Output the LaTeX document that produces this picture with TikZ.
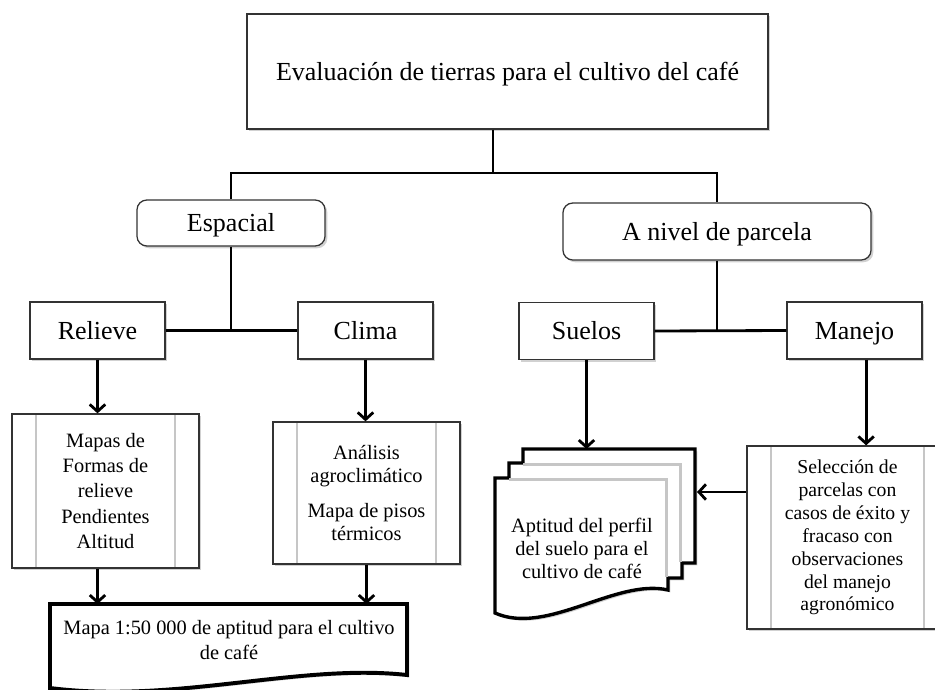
\documentclass[tikz,border=0pt]{standalone}
\usepackage{fontspec}
\setmainfont{Liberation Serif}
\usetikzlibrary{arrows.meta,shadows}

\begin{document}
\begin{tikzpicture}[x=0.025cm, y=-0.025cm,
    sombra/.style={drop shadow={shadow xshift=1.6pt, shadow yshift=-1.6pt, opacity=0.3, fill=black!60}},
    caja/.style={draw=black!80, line width=0.9pt, fill=white, sombra, text height=13pt, text depth=0.5pt,
        minimum width=3.375cm, minimum height=1.425cm, font=\fontsize{18.5}{22}\selectfont},
    redonda/.style={caja, rounded corners=7pt},
    proceso/.style={caja, text height=, text depth=, align=center, minimum width=4.675cm, font=\fontsize{14.5}{18}\selectfont,
        path picture={
            \draw[gray!45, line width=1.2pt]
                ([xshift=0.6cm]path picture bounding box.north west) -- ([xshift=0.6cm]path picture bounding box.south west)
                ([xshift=-0.6cm]path picture bounding box.north east) -- ([xshift=-0.6cm]path picture bounding box.south east);
        }},
    linea/.style={line width=2pt},
    flecha/.style={linea, -{Straight Barb[length=5pt, width=11pt]}},
    documento/.style={draw=black, fill=white, line join=miter}]

    \useasboundingbox (0,0) rectangle (935,690);
    \clip (0,0) rectangle (935,690);

    % Título
    \node[caja, minimum width=13.025cm, minimum height=2.875cm] (titulo) at (507.5,71.5) {Evaluación de tierras para el cultivo del café};

    % Enfoques
    \node[redonda, minimum width=4.7cm, minimum height=1.15cm] (espacial) at (231,223) {Espacial};
    \node[redonda, minimum width=7.7cm, minimum height=1.425cm] (anivel) at (717,231.5) {A nivel de parcela};

    % Componentes
    \node[caja] (relieve) at (97.5,330.5) {Relieve};
    \node[caja] (clima) at (365.5,330.5) {Clima};
    \node[caja] (suelos) at (586.5,331) {Suelos};
    \node[caja] (manejo) at (854.5,330.5) {Manejo};

    % Procesos
    \node[proceso, minimum height=3.85cm] (mapas) at (105.5,491) {Mapas de\\Formas de\\relieve\\Pendientes\\Altitud};
    \node[proceso, minimum height=3.55cm, font=\fontsize{14.5}{16.5}\selectfont] (analisis) at (366.5,493) {Análisis\\agroclimático\\[8pt]Mapa de pisos\\térmicos};
    \node[proceso, minimum width=5.025cm, minimum height=4.575cm, font=\fontsize{14}{16.3}\selectfont] (seleccion) at (847.5,537.5) {Selección de\\parcelas con\\casos de éxito y\\fracaso con\\observaciones\\del manejo\\agronómico};

    % Documento: mapa de aptitud
    \draw[documento, line width=2.8pt, sombra] (50,690) -- (50,604) -- (407,604) -- (407,675)
        .. controls (300,663) and (175,704) .. (50,688) -- cycle;
    \coordinate (mapaTope) at (229,604);
    \node[font=\fontsize{14.5}{18}\selectfont, align=center] (mapa) at (229,640) {Mapa 1:50 000 de aptitud para el cultivo\\de café};

    % Documentos múltiples: aptitud del perfil
    \draw[documento, line width=2.4pt, sombra] (495,613) -- (495,478) -- (509,478) -- (509,463) -- (523,463) -- (523,449)
        -- (695,449) -- (695,563) -- (682,563) -- (682,578) -- (668,578) -- (668,590)
        .. controls (616,578) and (547,636) .. (495,613) -- cycle;
    \draw[gray!45, line width=1.5pt] (523,464.5) -- (680.5,464.5) -- (680.5,561.5);
    \draw[gray!45, line width=1.5pt] (509,479.5) -- (666.5,479.5) -- (666.5,576.5);
    \coordinate (pilaTope) at (587,449);
    \coordinate (pilaDer) at (697,492);
    \node[font=\fontsize{14.5}{16.3}\selectfont, align=center] (pila) at (582,548) {Aptitud del perfil\\del suelo para el\\cultivo de café};

    % Conexiones
    \coordinate (rama) at (493,173);
    \draw[linea] (rama |- titulo.south) -- (rama);
    \draw[linea] (espacial.north) |- (rama) -| (anivel.north);
    \draw[linea] (espacial.south) -- (espacial.south |- relieve.east);
    \draw[linea] (relieve.east) -- (clima.west);
    \draw[linea] (anivel.south) -- (anivel.south |- suelos.east);
    \draw[linea] (suelos.east) -- (manejo.west);

    % Flechas
    \draw[flecha] (relieve.south) -- (relieve.south |- mapas.north);
    \draw[flecha] (clima.south) -- (clima.south |- analisis.north);
    \draw[flecha] (suelos.south) -- (suelos.south |- pilaTope);
    \draw[flecha] ([xshift=0.29cm]manejo.south) -- ([xshift=0.29cm]manejo.south |- seleccion.north);
    \draw[flecha] (seleccion.west |- pilaDer) -- (pilaDer);
    \draw[flecha] (relieve.south |- mapas.south) -- (relieve.south |- mapaTope);
    \draw[flecha] (analisis.south) -- (analisis.south |- mapaTope);
\end{tikzpicture}
\end{document}
